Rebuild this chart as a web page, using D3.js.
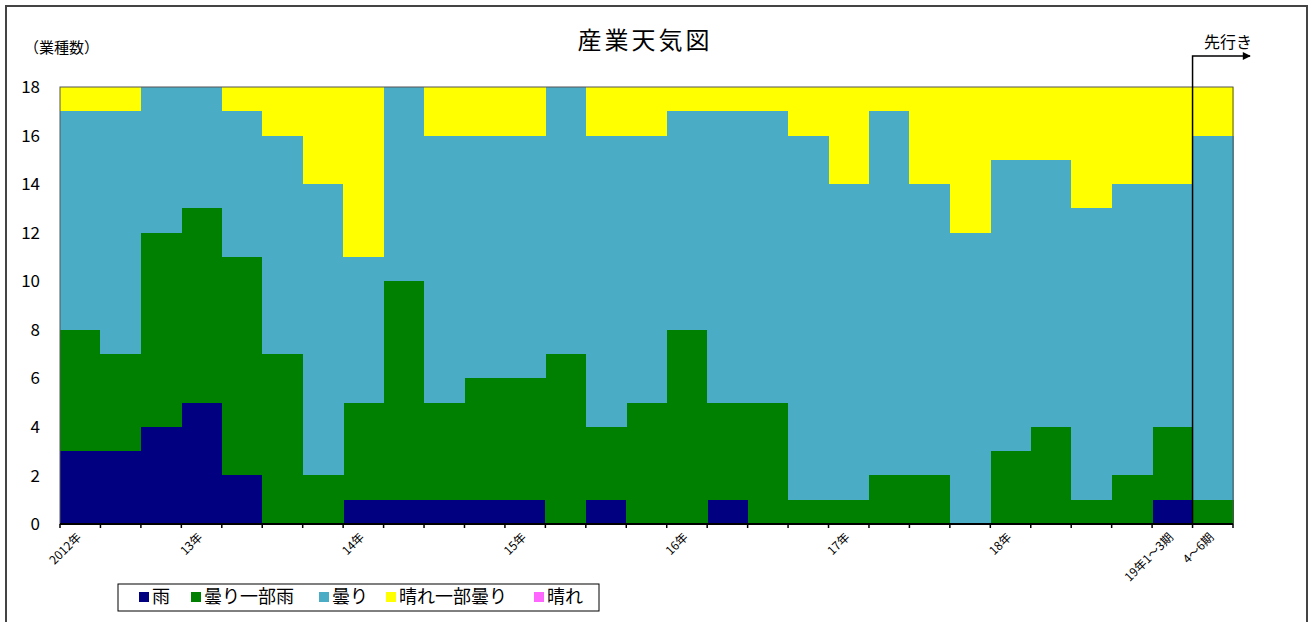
<!DOCTYPE html>
<html>
<head>
<meta charset="utf-8">
<script src="https://cdn.jsdelivr.net/npm/d3@7"></script>
<style>
  body { margin: 0; background: #fff; }
  text { font-family: "Noto Sans CJK JP", "Noto Sans", sans-serif; fill: #000; }
</style>
</head>
<body>
<div class="wrapper"></div>
<script>
const WIDTH = 1312
const HEIGHT = 622
const margin = {left: 60, right: 79, top: 87, bottom: 98}

// 四半期ごとのラベル（空文字はラベルなし）
var xLabels = ['2012年', '', '', '13年', '', '', '', '14年', '', '', '', '15年', '', '', '',
               '16年', '', '', '', '17年', '', '', '', '18年', '', '', '', '19年1～3期', '4～6期']

var keys = ['雨', '曇り一部雨', '曇り', '晴れ一部曇り', '晴れ']
var colors = ['#000080', '#008000', '#4bacc6', '#ffff00', '#ff66ff']

var rain        = [3,3,4,5,2,0,0,1,1,1,1,1,0,1,0,0,1,0,0,0,0,0,0,0,0,0,0,1,0]
var partlyRain  = [5,4,8,8,9,7,2,4,9,4,5,5,7,3,5,8,4,5,1,1,2,2,0,3,4,1,2,3,1]
var cloudy      = [9,10,6,5,6,9,12,6,8,11,10,10,11,12,11,9,12,12,15,13,15,12,12,12,11,12,12,10,15]
var partlySunny = [1,1,0,0,1,2,4,7,0,2,2,2,0,2,2,1,1,1,2,4,1,4,6,3,3,5,4,4,2]
var sunny       = [0,0,0,0,0,0,0,0,0,0,0,0,0,0,0,0,0,0,0,0,0,0,0,0,0,0,0,0,0]
var yTicks = [0, 2, 4, 6, 8, 10, 12, 14, 16, 18]
var forecastIndex = 28

var rows = xLabels.map(function(l, i) {
  return {i: i, '雨': rain[i], '曇り一部雨': partlyRain[i], '曇り': cloudy[i],
          '晴れ一部曇り': partlySunny[i], '晴れ': sunny[i]}
})

var svg = d3.select(".wrapper")
    .append("svg")
    .attr("width", WIDTH)
    .attr("height", HEIGHT)

// 外枠
svg.append("path")
    .attr("d", "M6,640 V6 H1307 V640")
    .attr("fill", "none")
    .attr("stroke", "#444")
    .attr("stroke-width", 2)

var x = d3.scaleBand(d3.range(xLabels.length), [margin.left, WIDTH - margin.right]).padding(0)
var y = d3.scaleLinear([0, 18], [HEIGHT - margin.bottom, margin.top])
var color = d3.scaleOrdinal(keys, colors)

var series = d3.stack().keys(keys)(rows)

svg.append("g")
  .selectAll("g")
  .data(series)
  .join("g")
    .attr("fill", d => color(d.key))
  .selectAll("rect")
  .data(d => d)
  .join("rect")
    .attr("x", d => x(d.data.i))
    .attr("width", x.bandwidth() + 0.5)
    .attr("y", d => y(d[1]))
    .attr("height", d => y(d[0]) - y(d[1]))
    .attr("shape-rendering", "crispEdges")

// プロット枠
svg.append("rect")
    .attr("x", margin.left)
    .attr("y", margin.top)
    .attr("width", WIDTH - margin.right - margin.left)
    .attr("height", HEIGHT - margin.bottom - margin.top)
    .attr("fill", "none")
    .attr("stroke", "#555")
    .attr("stroke-width", 1)

// x軸
var x0 = y(0)
svg.append("line")
    .attr("x1", margin.left).attr("x2", WIDTH - margin.right)
    .attr("y1", x0).attr("y2", x0)
    .attr("stroke", "#000").attr("stroke-width", 2)

svg.append("g")
  .selectAll("line")
  .data(d3.range(xLabels.length + 1))
  .join("line")
    .attr("x1", d => margin.left + d * x.bandwidth())
    .attr("x2", d => margin.left + d * x.bandwidth())
    .attr("y1", x0).attr("y2", x0 + 4)
    .attr("stroke", "#000").attr("stroke-width", 1.5)

svg.append("g")
  .selectAll("text")
  .data(xLabels.map((l, i) => ({l: l, i: i})).filter(d => d.l !== ''))
  .join("text")
    .attr("transform", d => `translate(${x(d.i) + 16},${x0 + 8}) rotate(-45)`)
    .attr("text-anchor", "end")
    .attr("dy", "0.7em")
    .style("font-size", "12px")
    .text(d => d.l)

// y軸ラベル
svg.append("g")
  .selectAll("text")
  .data(yTicks)
  .join("text")
    .attr("x", 40)
    .attr("y", d => y(d))
    .attr("dy", "0.36em")
    .attr("text-anchor", "end")
    .style("font-size", "17px")
    .text(d => d)

svg.append("text")
    .attr("x", 24).attr("y", 53)
    .style("font-size", "15px")
    .text("（業種数）")

svg.append("text")
    .attr("x", 645).attr("y", 49)
    .attr("text-anchor", "middle")
    .style("font-size", "24px")
    .style("letter-spacing", "3px")
    .text("産業天気図")

// 先行き矢印
svg.append("defs").append("marker")
    .attr("id", "arrow")
    .attr("viewBox", "0 0 10 10")
    .attr("refX", 9).attr("refY", 5)
    .attr("markerWidth", 12).attr("markerHeight", 8)
    .attr("markerUnits", "userSpaceOnUse")
    .attr("orient", "auto")
  .append("path")
    .attr("d", "M0,0 L10,5 L0,10 Z")
    .attr("fill", "#000")

var fx = x(forecastIndex)
svg.append("path")
    .attr("d", `M${fx},${x0} V56 H1250`)
    .attr("fill", "none")
    .attr("stroke", "#000")
    .attr("stroke-width", 1.5)
    .attr("marker-end", "url(#arrow)")

svg.append("text")
    .attr("x", 1228).attr("y", 48)
    .attr("text-anchor", "middle")
    .style("font-size", "16px")
    .text("先行き")

// 凡例
svg.append("rect")
    .attr("x", 118).attr("y", 584)
    .attr("width", 481).attr("height", 27)
    .attr("fill", "#fff")
    .attr("stroke", "#000")
    .attr("stroke-width", 1)

var legendX = [139, 191, 319, 386, 534]
var lg = svg.append("g")
  .selectAll("g")
  .data(keys)
  .join("g")
    .attr("transform", (d, i) => `translate(${legendX[i]},597)`)
lg.append("rect")
    .attr("x", 0).attr("y", -5)
    .attr("width", 10).attr("height", 10)
    .attr("fill", d => color(d))
lg.append("text")
    .attr("x", 13).attr("dy", "0.36em")
    .style("font-size", "18px")
    .text(d => d)
</script>
</body>
</html>
